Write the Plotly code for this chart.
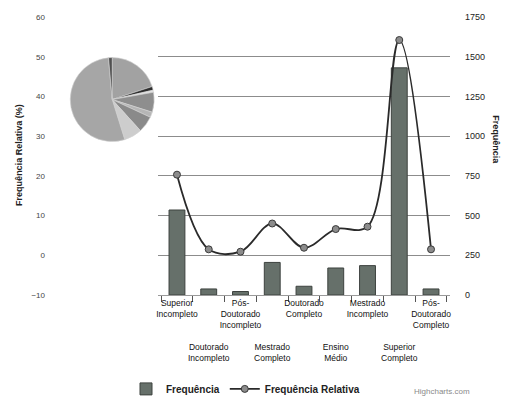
import plotly.graph_objects as go

# Education level counts and their relative share
categories = [
    "Superior Incompleto", "Doutorado Incompleto", "Pós-Doutorado Incompleto",
    "Mestrado Completo", "Doutorado Completo", "Ensino Médio",
    "Mestrado Incompleto", "Superior Completo", "Pós-Doutorado Completo",
]
tick_labels = [
    "Superior<br>Incompleto",
    "<br><br><br><br>Doutorado<br>Incompleto",
    "Pós-<br>Doutorado<br>Incompleto",
    "<br><br><br><br>Mestrado<br>Completo",
    "Doutorado<br>Completo",
    "<br><br><br><br>Ensino<br>Médio",
    "Mestrado<br>Incompleto",
    "<br><br><br><br>Superior<br>Completo",
    "Pós-<br>Doutorado<br>Completo",
]
frequencia = [535, 38, 22, 205, 55, 170, 185, 1430, 38]
freq_relativa = [20.3, 1.5, 0.9, 8.0, 1.9, 6.6, 7.2, 54.2, 1.5]

left_ticks = [-10, 0, 10, 20, 30, 40, 50, 60]
right_ticks = [0, 250, 500, 750, 1000, 1250, 1500, 1750]

pie_colors = ["#a2a2a2", "#2e2e2e", "#e2e2e2", "#8e8e8e", "#b6b6b6",
              "#8a8a8a", "#cdcdcd", "#a6a6a6", "#505050"]

FONT = "Liberation Sans, Arial, sans-serif"

fig = go.Figure()

fig.add_trace(go.Bar(
    x=categories, y=frequencia, name="Frequência", yaxis="y",
    width=0.5,
    marker=dict(color="#66706a", line=dict(color="#3d423f", width=1)),
))

fig.add_trace(go.Scatter(
    x=categories, y=freq_relativa, name="Frequência Relativa", yaxis="y2",
    mode="lines+markers",
    line=dict(color="#2a2a2a", width=1.8, shape="spline", smoothing=1),
    marker=dict(symbol="circle", size=7, color="#8c8c8c",
                line=dict(color="#3a3a3a", width=1)),
))

fig.add_trace(go.Pie(
    labels=categories, values=frequencia,
    domain=dict(x=[0.062, 0.27], y=[0.552, 0.854]),
    sort=False, direction="clockwise", rotation=0,
    textinfo="none", showlegend=False, hoverinfo="label+percent",
    marker=dict(colors=pie_colors, line=dict(color="#d4d4d4", width=0.6)),
))

fig.update_layout(
    width=505, height=403,
    margin=dict(l=45, r=55, t=17, b=108, autoexpand=False),
    paper_bgcolor="white", plot_bgcolor="white",
    font=dict(family=FONT, size=9, color="#222"),
    bargap=0.5,
    xaxis=dict(
        domain=[0.279, 1.0],
        tickmode="array", tickvals=categories, ticktext=tick_labels,
        tickangle=0,
        showline=True, linecolor="#9a9a9a", linewidth=1,
        ticks="outside", tickson="boundaries", ticklen=6,
        tickcolor="#555", showgrid=False,
        tickfont=dict(size=8.5, color="#111"),
        ticklabelstandoff=0,
    ),
    yaxis=dict(
        side="right", range=[0, 1750], tickvals=right_ticks,
        showgrid=True, gridcolor="#8c8c8c", gridwidth=1,
        zeroline=False, showline=False,
        ticks="", ticklabelstandoff=14,
        tickfont=dict(size=9, color="#222"),
    ),
    yaxis2=dict(
        overlaying="y", side="left", anchor="free", position=0,
        range=[-10, 60], tickvals=left_ticks,
        showgrid=False, zeroline=False, showline=False,
        ticks="", tickfont=dict(size=8, color="#444"),
    ),
    legend=dict(
        orientation="h", x=0.2, xanchor="left",
        yref="container", y=0.035, yanchor="middle",
        font=dict(size=10, color="#222", family=FONT, weight="bold"),
        bgcolor="rgba(0,0,0,0)",
    ),
    annotations=[
        dict(text="<b>Frequência Relativa (%)</b>", xref="paper", yref="paper",
             x=-0.0815, y=0.504, textangle=-90, showarrow=False,
             font=dict(size=9, color="#222")),
        dict(text="<b>Frequência</b>", xref="paper", yref="paper",
             x=1.13, y=0.558, textangle=90, showarrow=False,
             font=dict(size=9, color="#222")),
        dict(text="Highcharts.com", xref="paper", yref="paper",
             x=1.054, y=-0.37, showarrow=False,
             font=dict(size=8, color="#8a8a8a")),
    ],
)

fig.write_html("out.html")
